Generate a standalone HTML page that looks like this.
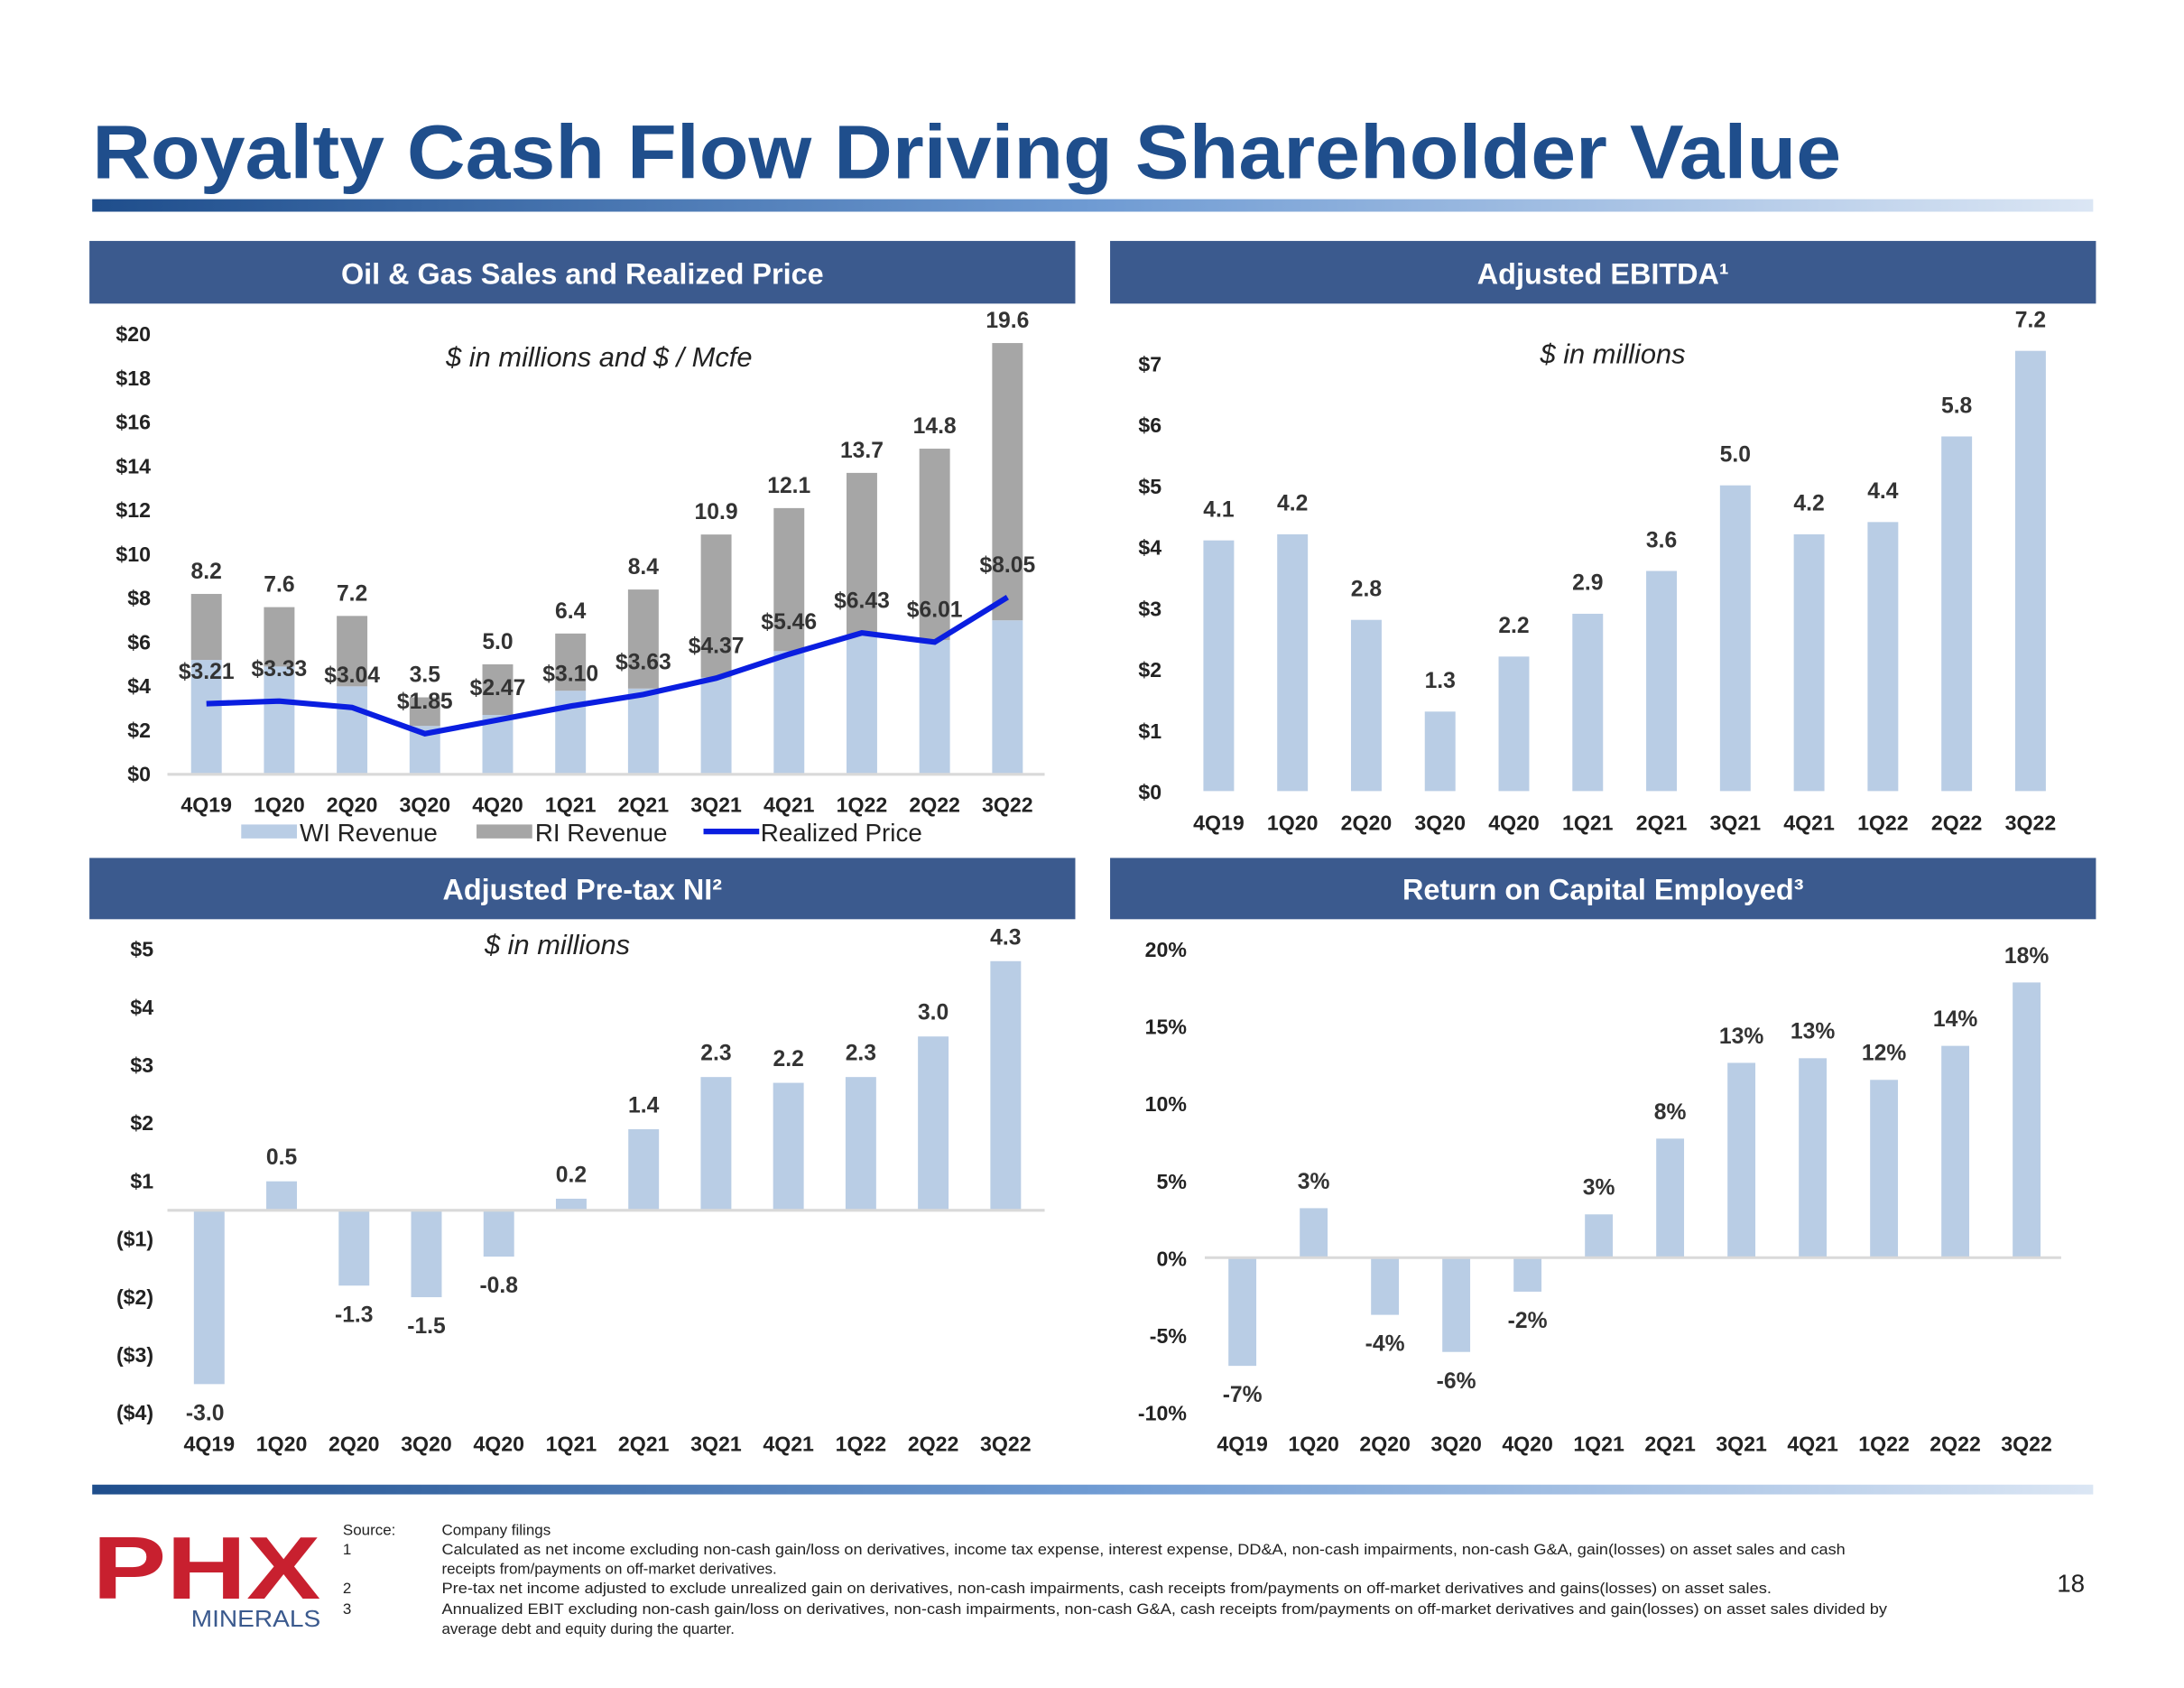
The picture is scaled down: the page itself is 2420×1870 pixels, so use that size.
<!DOCTYPE html>
<html><head><meta charset="utf-8">
<style>
html,body{margin:0;padding:0;background:#fff;}
svg{display:block;font-family:"Liberation Sans",Arial,sans-serif;}
.tk{font-size:15px;font-weight:bold;fill:#222;}
.vl{font-size:16px;font-weight:bold;fill:#333;}
.hd{font-size:21px;font-weight:bold;fill:#fff;}
.sub{font-size:20px;font-style:italic;fill:#222;}
.fn{font-size:11px;fill:#222;}
</style></head>
<body>
<svg id="slide" width="2420" height="1870" viewBox="0 0 1568 1212" xmlns="http://www.w3.org/2000/svg">
<defs>
<linearGradient id="gb" x1="0" x2="1" y1="0" y2="0">
<stop offset="0" stop-color="#1f4e8c"/><stop offset="0.5" stop-color="#6f9bd3"/><stop offset="1" stop-color="#dbe6f4"/>
</linearGradient>
</defs>
<text x="66" y="128" font-size="55" font-weight="bold" fill="#1f4e8c" textLength="1256" lengthAdjust="spacingAndGlyphs">Royalty Cash Flow Driving Shareholder Value</text>
<rect x="66" y="143" width="1437" height="9" fill="url(#gb)"/>

<rect x="64" y="173" width="708" height="45" fill="#3b5a8e"/>
<text class="hd" x="418" y="204" text-anchor="middle">Oil &amp; Gas Sales and Realized Price</text>
<rect x="797" y="173" width="708" height="45" fill="#3b5a8e"/>
<text class="hd" x="1151" y="204" text-anchor="middle">Adjusted EBITDA¹</text>
<rect x="64" y="616" width="708" height="44" fill="#3b5a8e"/>
<text class="hd" x="418" y="646" text-anchor="middle">Adjusted Pre-tax NI²</text>
<rect x="797" y="616" width="708" height="44" fill="#3b5a8e"/>
<text class="hd" x="1151" y="646" text-anchor="middle">Return on Capital Employed³</text>

<text class="sub" x="430" y="263" text-anchor="middle">$ in millions and $ / Mcfe</text>
<text class="sub" x="1158" y="261" text-anchor="middle">$ in millions</text>
<text class="sub" x="400" y="685" text-anchor="middle">$ in millions</text>

<g id="c1"></g>
<g id="c2"></g>
<g id="c3"></g>
<g id="c4"></g>

<rect x="66" y="1066" width="1437" height="7" fill="url(#gb)"/>
<g>
<text x="66" y="1148" font-size="64" font-weight="bold" fill="#c8202f" textLength="164" lengthAdjust="spacingAndGlyphs">PHX</text>
<text x="137" y="1168" font-size="17" fill="#3b5a8e" textLength="93" lengthAdjust="spacingAndGlyphs">MINERALS</text>
</g>
<g>
<text class="fn" x="246" y="1102">Source:</text><text class="fn" x="317" y="1102">Company  filings</text>
<text class="fn" x="246" y="1116">1</text><text class="fn" x="317" y="1116" textLength="1008" lengthAdjust="spacingAndGlyphs">Calculated as net income excluding non-cash gain/loss on derivatives, income tax expense, interest expense, DD&amp;A, non-cash impairments, non-cash G&amp;A, gain(losses) on asset sales and cash</text>
<text class="fn" x="317" y="1130">receipts from/payments on off-market derivatives.</text>
<text class="fn" x="246" y="1144">2</text><text class="fn" x="317" y="1144" textLength="955" lengthAdjust="spacingAndGlyphs">Pre-tax net income adjusted to exclude unrealized gain on derivatives, non-cash impairments, cash receipts from/payments on off-market derivatives and gains(losses) on asset sales.</text>
<text class="fn" x="246" y="1159">3</text><text class="fn" x="317" y="1159" textLength="1038" lengthAdjust="spacingAndGlyphs">Annualized EBIT excluding non-cash gain/loss on derivatives, non-cash impairments, non-cash G&amp;A, cash receipts from/payments on off-market derivatives and gain(losses) on asset sales divided by</text>
<text class="fn" x="317" y="1173">average debt and equity during the quarter.</text>
</g>
<text x="1477" y="1143" font-size="18" fill="#222">18</text>
</svg>
<script>
const quarters = ["4Q19","1Q20","2Q20","3Q20","4Q20","1Q21","2Q21","3Q21","4Q21","1Q22","2Q22","3Q22"];
const wiRevenue = [5.2,4.9,4.0,2.2,2.7,3.8,3.9,4.4,5.6,6.3,6.1,7.0];
const totalRevenue = [8.2,7.6,7.2,3.5,5.0,6.4,8.4,10.9,12.1,13.7,14.8,19.6];
const realizedPrice = [3.21,3.33,3.04,1.85,2.47,3.10,3.63,4.37,5.46,6.43,6.01,8.05];
const salesTicks = [0,2,4,6,8,10,12,14,16,18,20];
const ebitda = [4.1,4.2,2.8,1.3,2.2,2.9,3.6,5.0,4.2,4.4,5.8,7.2];
const ebitdaTicks = [0,1,2,3,4,5,6,7];
const pretaxNI = [-3.0,0.5,-1.3,-1.5,-0.8,0.2,1.4,2.3,2.2,2.3,3.0,4.3];
const niTickPos = [4.5,3.5,2.5,1.5,0.5,-0.5,-1.5,-2.5,-3.5];
const niTickLabels = ["$5","$4","$3","$2","$1","($1)","($2)","($3)","($4)"];
const roce = [-7.0,3.2,-3.7,-6.1,-2.2,2.8,7.7,12.6,12.9,11.5,13.7,17.8];
const roceLabels = ["-7%","3%","-4%","-6%","-2%","3%","8%","13%","13%","12%","14%","18%"];
const roceTicks = [-10,-5,0,5,10,15,20];

const NS="http://www.w3.org/2000/svg";
function mk(parent,tag,attrs,text){const e=document.createElementNS(NS,tag);for(const k in attrs)e.setAttribute(k,attrs[k]);if(text!==undefined)e.textContent=text;parent.appendChild(e);return e;}
const LB="#b9cde5", GR="#a6a6a6";

(function(){
 const g=document.getElementById('c1');
 const y=v=>556-v*15.8, x=i=>148+i*52.3, bw=22;
 salesTicks.forEach(t=>{const e=mk(g,'text',{x:108,y:y(t)+5,'text-anchor':'end','class':'tk'},'$'+t);
 
 });
 quarters.forEach((q,i)=>{
  const w=mk(g,'rect',{x:x(i)-bw/2,y:y(wiRevenue[i]),width:bw,height:y(0)-y(wiRevenue[i]),fill:LB});
  
  
  const r=mk(g,'rect',{x:x(i)-bw/2,y:y(totalRevenue[i]),width:bw,height:y(wiRevenue[i])-y(totalRevenue[i]),fill:GR});
  
  
  const tl=mk(g,'text',{x:x(i),y:y(totalRevenue[i])-11,'text-anchor':'middle','class':'vl'},totalRevenue[i].toFixed(1));
  
  
  const xl=mk(g,'text',{x:x(i),y:583,'text-anchor':'middle','class':'tk'},q);
  
  
 });
 const ax=mk(g,'line',{x1:120,x2:750,y1:556,y2:556,stroke:'#d9d9d9','stroke-width':2});
 
 
 const pl=mk(g,'polyline',{points:realizedPrice.map((v,i)=>x(i)+','+y(v)).join(' '),fill:'none',stroke:'#0a1ee0','stroke-width':4});
 
 
 realizedPrice.forEach((v,i)=>{const t=mk(g,'text',{x:x(i),y:y(v)-18,'text-anchor':'middle','class':'vl'},'$'+v.toFixed(2));
 
 });
 const lg=mk(g,'g',{});
 
 
 mk(lg,'rect',{x:173,y:592,width:40,height:10,fill:LB});mk(lg,'text',{x:215,y:604,'font-size':18,fill:'#222'},'WI Revenue');
 mk(lg,'rect',{x:342,y:592,width:40,height:10,fill:GR});mk(lg,'text',{x:384,y:604,'font-size':18,fill:'#222'},'RI Revenue');
 mk(lg,'line',{x1:505,x2:545,y1:597,y2:597,stroke:'#0a1ee0','stroke-width':4});mk(lg,'text',{x:546,y:604,'font-size':18,fill:'#222'},'Realized Price');
})();

(function(){
 const g=document.getElementById('c2');
 const y=v=>568-v*43.9, x=i=>875+i*53, bw=22;
 ebitdaTicks.forEach(t=>{const e=mk(g,'text',{x:834,y:y(t)+6,'text-anchor':'end','class':'tk'},'$'+t);
 
 });
 quarters.forEach((q,i)=>{
  const b=mk(g,'rect',{x:x(i)-bw/2,y:y(ebitda[i]),width:bw,height:y(0)-y(ebitda[i]),fill:LB});
  
  
  const l=mk(g,'text',{x:x(i),y:y(ebitda[i])-17,'text-anchor':'middle','class':'vl'},ebitda[i].toFixed(1));
  
  
  const xl=mk(g,'text',{x:x(i),y:596,'text-anchor':'middle','class':'tk'},q);
  
  
 });
})();

(function(){
 const g=document.getElementById('c3');
 const y=v=>869-v*41.6, x=i=>150+i*52, bw=22;
 niTickPos.forEach((t,k)=>{const e=mk(g,'text',{x:110,y:y(t)+5,'text-anchor':'end','class':'tk'},niTickLabels[k]);
 
 });
 quarters.forEach((q,i)=>{
  const v=pretaxNI[i];
  const b=mk(g,'rect',{x:x(i)-bw/2,y:Math.min(y(v),y(0)),width:bw,height:Math.abs(y(v)-y(0)),fill:LB});
  
  
  const ly=v>=0?y(v)-12:y(v)+26;
  const l=mk(g,'text',{x:x(i)+(v<0&&i==0?-3:0),y:v<0&&i==0?1020:ly,'text-anchor':'middle','class':'vl'},v.toFixed(1));
  
  
  const xl=mk(g,'text',{x:x(i),y:1042,'text-anchor':'middle','class':'tk'},q);
  
  
 });
 const ax=mk(g,'line',{x1:120,x2:750,y1:869,y2:869,stroke:'#d9d9d9','stroke-width':2});
 
 
})();

(function(){
 const g=document.getElementById('c4');
 const y=v=>903-v*11.1, x=i=>892+i*51.2, bw=20;
 roceTicks.forEach(t=>{const e=mk(g,'text',{x:852,y:y(t)+6,'text-anchor':'end','class':'tk'},t+'%');
 
 });
 quarters.forEach((q,i)=>{
  const v=roce[i];
  const b=mk(g,'rect',{x:x(i)-bw/2,y:Math.min(y(v),y(0)),width:bw,height:Math.abs(y(v)-y(0)),fill:LB});
  
  
  const ly=v>=0?y(v)-14:y(v)+26;
  const l=mk(g,'text',{x:x(i),y:ly,'text-anchor':'middle','class':'vl'},roceLabels[i]);
  
  
  const xl=mk(g,'text',{x:x(i),y:1042,'text-anchor':'middle','class':'tk'},q);
  
  
 });
 const ax=mk(g,'line',{x1:865,x2:1480,y1:903,y2:903,stroke:'#d9d9d9','stroke-width':2});
 
 
})();
</script>
</body></html>
